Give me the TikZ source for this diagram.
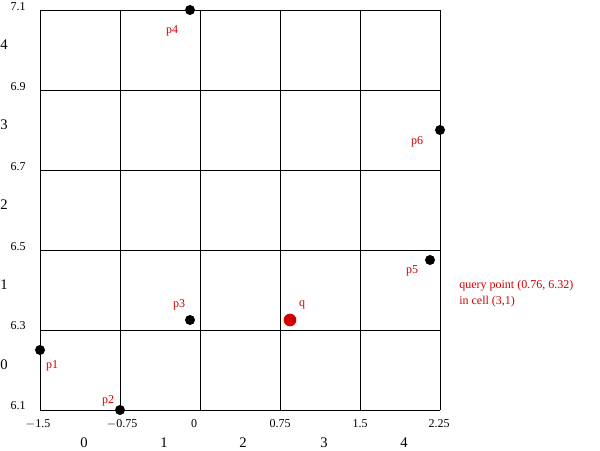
\documentclass[tikz,border=0pt]{standalone}
\usepackage{fontspec}
\setmainfont{Liberation Serif}
\usepackage{xcolor}
\definecolor{qred}{RGB}{210,0,0}

\begin{document}
\begin{tikzpicture}[x=0.75pt,y=-0.75pt]
\tikzstyle{every node}+=[inner sep=0pt]
\tikzstyle{dot}=[circle,fill=black,minimum size=7.5pt]
\tikzstyle{qdot}=[circle,fill=qred,minimum size=9.5pt]
\tikzstyle{plabel}=[text=qred,font=\fontsize{9}{10}\selectfont]
\tikzstyle{scalelabel}=[font=\fontsize{9}{10}\selectfont]
\tikzstyle{indexlabel}=[font=\fontsize{11}{12}\selectfont]
\useasboundingbox (0,0) rectangle (600,450);

% grid
\foreach \x in {40,120,...,440} \draw [black,line width=0.75pt] (\x,10) -- (\x,410);
\foreach \y in {10,90,...,410} \draw [black,line width=0.75pt] (40,\y) -- (440,\y);

% y scale and row index
\node [scalelabel] (y71) at (18,7) {7.1};
\node [scalelabel] (y69) at (18,87) {6.9};
\node [scalelabel] (y67) at (18,167) {6.7};
\node [scalelabel] (y65) at (18,247) {6.5};
\node [scalelabel] (y63) at (18,326) {6.3};
\node [scalelabel] (y61) at (18,406) {6.1};
\node [indexlabel] (r4) at (4,45) {4};
\node [indexlabel] (r3) at (4,125) {3};
\node [indexlabel] (r2) at (4,205) {2};
\node [indexlabel] (r1) at (4,285) {1};
\node [indexlabel] (r0) at (4,365) {0};

% x scale and column index
\node [scalelabel] (x1) at (38,424) {$-$1.5};
\node [scalelabel] (x2) at (122,424) {$-$0.75};
\node [scalelabel] (x3) at (194,424) {0};
\node [scalelabel] (x4) at (280,424) {0.75};
\node [scalelabel] (x5) at (360,424) {1.5};
\node [scalelabel] (x6) at (439,424) {2.25};
\node [indexlabel] (c0) at (84,443) {0};
\node [indexlabel] (c1) at (164,443) {1};
\node [indexlabel] (c2) at (243,443) {2};
\node [indexlabel] (c3) at (324,443) {3};
\node [indexlabel] (c4) at (404,443) {4};

% points
\node [dot] (p1) at (40,350) {};
\node [dot] (p2) at (120,410) {};
\node [dot] (p3) at (190,320) {};
\node [dot] (p4) at (190,10) {};
\node [dot] (p5) at (430,260) {};
\node [dot] (p6) at (440,130) {};
\node [qdot] (q) at (290,320) {};

\node [plabel] (lp1) at (52,366) {p1};
\node [plabel] (lp2) at (108,401) {p2};
\node [plabel] (lp3) at (179,305) {p3};
\node [plabel] (lp4) at (172,31) {p4};
\node [plabel] (lp5) at (412,271) {p5};
\node [plabel] (lp6) at (417,142) {p6};
\node [plabel] (lq) at (302,305) {q};

\node [plabel,anchor=west] (query) at (459,286) {query point (0.76, 6.32)};
\node [plabel,anchor=west] (cell) at (459,302) {in cell (3,1)};
\end{tikzpicture}
\end{document}
